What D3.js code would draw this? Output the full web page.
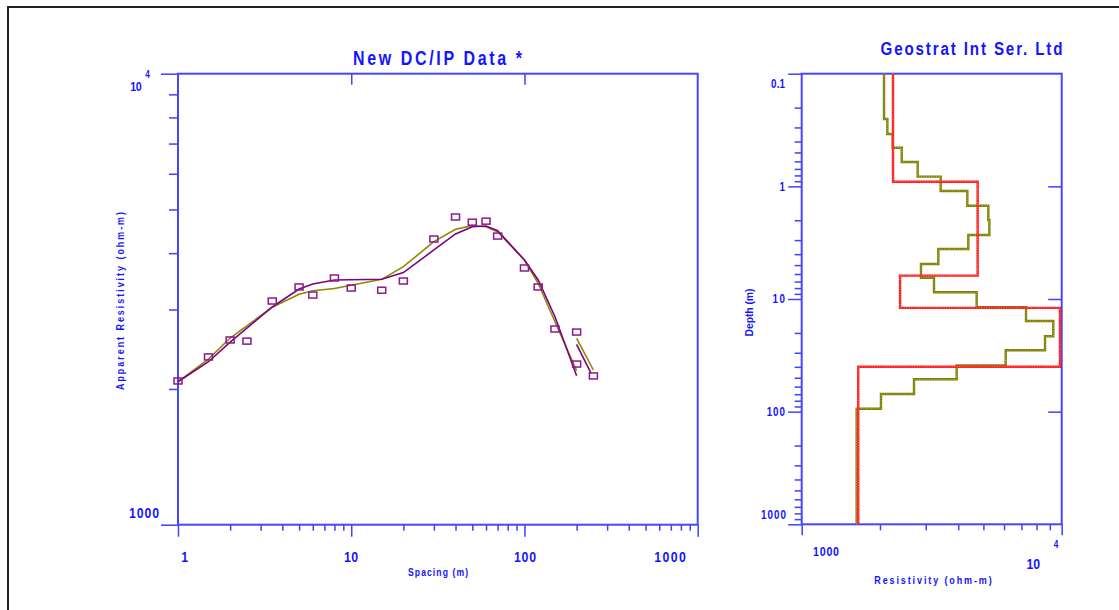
<!DOCTYPE html>
<html>
<head>
<meta charset="utf-8">
<script src="https://cdn.jsdelivr.net/npm/d3@7.9.0/dist/d3.min.js"></script>
<style>
  body { margin: 0; background: #fff; }
  svg { display: block; }
  text { font-family: "Liberation Sans", Arial, sans-serif; font-weight: bold; fill: #1414ff; }
  .domain { display: none; }
  .tick line { stroke: #4040ff; stroke-width: 1.5; }
</style>
</head>
<body>
<svg id="chart" width="1119" height="610"></svg>
<script>
// sounding data (spacing m, apparent resistivity ohm-m)
const spacing = [1, 1.5, 2, 2.5, 3.5, 5, 6, 8, 10, 15, 20, 30, 40, 50, 60, 70, 100, 120, 150, 200, 200, 250];
const observed = [2083, 2355, 2568, 2553, 3133, 3366, 3230, 3524, 3348, 3310, 3470, 4300, 4811, 4686, 4710, 4365, 3709, 3366, 2716, 2674, 2271, 2137];

// calculated curves, first segment then overlap segment
const calcSpacing = [1, 1.5, 2, 3.5, 5, 6, 8, 15, 20, 30, 40, 50, 60, 70, 100, 120, 150, 200];
const calcA = [2075, 2298, 2540, 3039, 3331, 3418, 3488, 3500, 3622, 4066, 4413, 4579, 4595, 4485, 3863, 3488, 2892, 2140];
const calcB = [2075, 2330, 2594, 3034, 3243, 3303, 3340, 3500, 3733, 4242, 4519, 4603, 4579, 4462, 3863, 3430, 2819, 2195];
const overlapSpacing = [200, 242];
const overlapA = [2512, 2167];
const overlapSpacingB = [200, 250];
const overlapB = [2590, 2203];

// layered model: resistivity of each layer, depth of each layer bottom
const modelRes = [2245, 4750, 2390, 9850, 1650];
const modelDepth = [0.91, 6.2, 12, 40];
const smoothRes = [2073, 2135, 2239, 2425, 2793, 3424, 4335, 5222, 5270, 4374, 3353, 2876, 3227, 4710, 7290, 9284, 8627, 6089, 3945, 2704, 2018, 1627];
const smoothDepth = [0.2525, 0.343, 0.454, 0.608, 0.82, 1.10, 1.486, 1.99, 2.70, 3.60, 4.89, 6.47, 8.72, 11.85, 15.68, 21.4, 28.5, 38.8, 51.6, 69.7, 94.2];

const svg = d3.select('#chart');
const axisColor = '#4646ff';

// outer frame
svg.append('rect').attr('x', 8).attr('y', 7).attr('width', 1200).attr('height', 700)
  .attr('fill', 'none').attr('stroke', '#222').attr('stroke-width', 2);

// squeezed bold text like the original plotter font
function label(s, x, y, size, width, anchor = 'middle', rotate = 0, sx = 0.82) {
  const t = svg.append('text')
    .attr('transform', `translate(${x},${y}) rotate(${rotate}) scale(${sx},1)`)
    .attr('font-size', size)
    .attr('text-anchor', anchor)
    .text(s);
  if (width) t.attr('textLength', width / sx).attr('lengthAdjust', 'spacing');
  return t;
}

function decadeMinors(lo, hi) {
  const out = [];
  for (let d = lo; d < hi; d *= 10) for (let k = 2; k < 10; k++) out.push(d * k);
  return out;
}

// ---------- left chart ----------
const x = d3.scaleLog().domain([1, 1000]).range([178, 697.7]);
const y = d3.scaleLog().domain([1000, 10000]).range([524.7, 73.7]);

svg.append('g').attr('transform', `translate(${x(1)},0)`)
  .call(d3.axisLeft(y).tickValues(decadeMinors(1000, 10000)).tickSize(9).tickFormat(''));
svg.append('g').attr('transform', `translate(${x(1)},0)`)
  .call(d3.axisLeft(y).tickValues([1000, 10000]).tickSize(17).tickFormat(''));
svg.append('g').attr('transform', `translate(0,${y(1000)})`)
  .call(d3.axisBottom(x).tickValues(decadeMinors(1, 1000)).tickSize(6).tickFormat(''));
svg.append('g').attr('transform', `translate(0,${y(1000)})`)
  .call(d3.axisBottom(x).tickValues([1, 10, 100, 1000]).tickSize(12).tickFormat(''));
svg.append('g').attr('transform', `translate(0,${y(10000)})`)
  .call(d3.axisBottom(x).tickValues([10, 100]).tickSize(11).tickFormat(''));

svg.append('rect').attr('x', x(1)).attr('y', y(10000))
  .attr('width', x(1000) - x(1)).attr('height', y(1000) - y(10000))
  .attr('fill', 'none').attr('stroke', axisColor).attr('stroke-width', 2);

label('10', 141.7, 90.7, 13, 11.5, 'end');
label('4', 147.5, 78, 10, 0, 'middle');
label('1000', 159, 518, 15, 30, 'end');
label('1', 184.7, 562, 15, 0);
label('10', 351, 562, 15, 14);
label('100', 525, 562, 15, 22);
label('1000', 670, 562, 15, 31.5);
label('Spacing (m)', 438, 575.5, 10.5, 60);
label('Apparent Resistivity (ohm-m)', 123.5, 301, 10.5, 178, 'middle', -90, 0.85);
label('New DC/IP Data *', 437.5, 64.5, 19.5, 169);

const lineA = d3.line().x((d, i) => x(d[0])).y(d => y(d[1]));
function series(sp, vals, color) {
  svg.append('path').datum(sp.map((s, i) => [s, vals[i]]))
    .attr('d', lineA).attr('fill', 'none').attr('stroke', color).attr('stroke-width', 1.6);
}
series(calcSpacing, calcB, '#8a8a00');
series(overlapSpacingB, overlapB, '#8a8a00');
series(calcSpacing, calcA, '#800080');
series(overlapSpacing, overlapA, '#800080');

svg.append('g').selectAll('rect').data(spacing).join('rect')
  .attr('x', (d) => x(d) - 4).attr('y', (d, i) => y(observed[i]) - 3)
  .attr('width', 8).attr('height', 6)
  .attr('fill', 'none').attr('stroke', '#8b1a8b').attr('stroke-width', 1.5);

// ---------- right chart ----------
const xr = d3.scaleLog().domain([1000, 10000]).range([801.7, 1061.7]);
const yr = d3.scaleLog().domain([0.1, 1000]).range([73.7, 524.3]);

svg.append('g').attr('transform', `translate(${xr(1000)},0)`)
  .call(d3.axisLeft(yr).tickValues(decadeMinors(0.1, 1000)).tickSize(7).tickFormat(''));
svg.append('g').attr('transform', `translate(${xr(1000)},0)`)
  .call(d3.axisLeft(yr).tickValues([0.1, 1, 10, 100, 1000]).tickSize(13.5).tickFormat(''));
svg.append('g').attr('transform', `translate(${xr(10000)},0)`)
  .call(d3.axisLeft(yr).tickValues([1, 10, 100]).tickSize(13.5).tickFormat(''));
svg.append('g').attr('transform', `translate(0,${yr(1000)})`)
  .call(d3.axisBottom(xr).tickValues(decadeMinors(1000, 10000)).tickSize(6).tickFormat(''));
svg.append('g').attr('transform', `translate(0,${yr(1000)})`)
  .call(d3.axisBottom(xr).tickValues([1000, 10000]).tickSize(11).tickFormat(''));

svg.append('rect').attr('x', xr(1000)).attr('y', yr(0.1))
  .attr('width', xr(10000) - xr(1000)).attr('height', yr(1000) - yr(0.1))
  .attr('fill', 'none').attr('stroke', axisColor).attr('stroke-width', 2);

label('0.1', 785, 88.3, 12, 14, 'end');
label('1', 785, 190.7, 12, 0, 'end');
label('10', 785, 303.3, 12, 12.5, 'end');
label('100', 785, 416, 12, 18.3, 'end');
label('1000', 786, 519.3, 12, 25, 'end');
label('1000', 826, 556, 13, 26);
label('10', 1040, 569.3, 15, 13.5, 'end');
label('4', 1056, 548, 10, 0);
label('Resistivity (ohm-m)', 933, 584, 11, 117.5);
label('Depth (m)', 753, 312.5, 11.5, 48, 'middle', -90, 0.9);
label('Geostrat Int Ser. Ltd', 971.5, 55, 18.5, 182);

function steps(res, depth) {
  const pts = [[res[0], 0.1]];
  depth.forEach((d, i) => { pts.push([res[i], d]); pts.push([res[i + 1], d]); });
  pts.push([res[res.length - 1], 1000]);
  return pts;
}
const stepLine = d3.line().x(d => xr(d[0])).y(d => yr(d[1]));
function stepPath(res, depth, base, light) {
  const pts = steps(res, depth);
  svg.append('path').datum(pts).attr('d', stepLine)
    .attr('fill', 'none').attr('stroke', base).attr('stroke-width', 2.4);
  svg.append('path').datum(pts).attr('d', stepLine)
    .attr('fill', 'none').attr('stroke', light).attr('stroke-width', 0.8)
    .attr('stroke-dasharray', '1,1.5');
}
stepPath(smoothRes, smoothDepth, '#7d7d00', '#c9c97a');
stepPath(modelRes, modelDepth, '#ff1a1a', '#ff9a9a');
</script>
</body>
</html>
